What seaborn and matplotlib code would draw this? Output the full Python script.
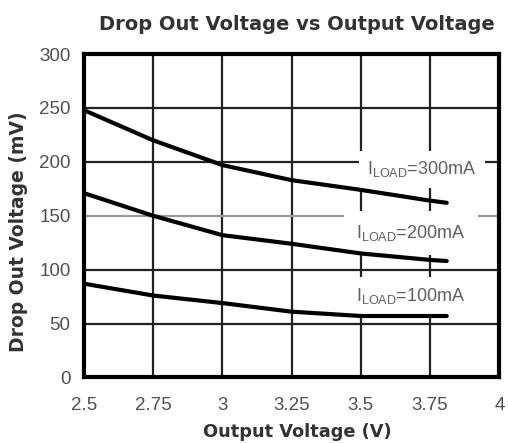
import numpy as np
import pandas as pd
import matplotlib
matplotlib.use("Agg")
import matplotlib.pyplot as plt
import seaborn as sns

# values
vout = [2.5, 2.75, 3.0, 3.25, 3.5, 3.75, 3.81]
drop_300 = [248, 220, 197, 183, 174, 164, 162]
drop_200 = [171, 150, 132, 124, 115, 109, 108]
drop_100 = [87, 76, 69, 61, 57, 57, 57]
loads = ['300mA', '200mA', '100mA']
xticks = [2.5, 2.75, 3, 3.25, 3.5, 3.75, 4]
xticklabels = ['2.5', '2.75', '3', '3.25', '3.5', '3.75', '4']
yticks = [0, 50, 100, 150, 200, 250, 300]

df = pd.concat([
    pd.DataFrame({'Vout': vout, 'Drop': d, 'Load': l})
    for d, l in zip([drop_300, drop_200, drop_100], loads)
])

sns.set_style("white")
plt.rcParams['font.family'] = ['Liberation Sans', 'DejaVu Sans']

fig, ax = plt.subplots(figsize=(5.08, 4.43), dpi=100)
fig.subplots_adjust(left=0.165, right=0.983, top=0.878, bottom=0.148)

ax.set_xlim(2.5, 4)
ax.set_ylim(0, 300)
ax.set_xticks(xticks)
ax.set_xticklabels(xticklabels)
ax.set_yticks(yticks)

# grid
for x in xticks[1:-1]:
    ax.axvline(x, color='#222222', lw=1.6, zorder=1)
for y in yticks[1:-1]:
    ax.axhline(y, color='#999999' if y == 150 else '#222222', lw=1.6, zorder=1)

sns.lineplot(data=df, x='Vout', y='Drop', units='Load', estimator=None,
             color='black', lw=3, ax=ax, zorder=3, legend=False)

# labels sit on white boxes that blank out the grid behind them
label_pos = [(3.72, 193), (3.68, 134), (3.68, 76)]
label_pad = [6, 9, 6]
for (lx, ly), l, p in zip(label_pos, loads, label_pad):
    ax.text(lx, ly, r'$\mathregular{I_{LOAD}}$=' + l, ha='center', va='center',
            fontsize=13, color='#606060', zorder=2,
            bbox=dict(facecolor='white', edgecolor='none', pad=p))

for s in ax.spines.values():
    s.set_linewidth(3)
    s.set_color('black')
    s.set_zorder(5)

ax.tick_params(length=0, labelsize=13.5, labelcolor='#505050')
ax.tick_params(axis='x', pad=14)
ax.tick_params(axis='y', pad=9.5)

bold = dict(family='DejaVu Sans', fontweight='bold', color='#333333')
ax.set_xlabel('Output Voltage (V)', fontsize=12.8, **bold)
ax.set_ylabel('Drop Out Voltage (mV)', fontsize=13.5, **bold)
ax.xaxis.set_label_coords(0.513, -0.142)
ax.yaxis.set_label_coords(-0.134, 0.452)
ax.set_title('Drop Out Voltage vs Output Voltage', fontsize=14,
             x=0.513, y=1.074, pad=0, **bold)

fig.savefig('out.png', dpi=100)
